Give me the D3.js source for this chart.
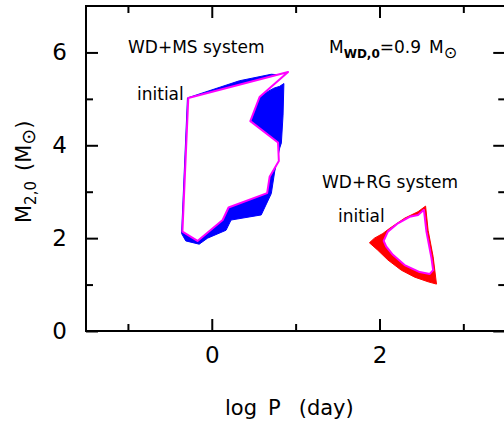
<!DOCTYPE html>
<html>
<head>
<meta charset="utf-8">
<script src="https://cdn.jsdelivr.net/npm/d3@7"></script>
<style>
  html, body { margin: 0; padding: 0; background: #fff; }
  svg { display: block; font-family: "DejaVu Sans", sans-serif; }
</style>
</head>
<body>
<svg id="chart" width="504" height="424"></svg>
<script>
// ---------- data ----------
const xDomain = [-1.5, 3.5];
const yDomain = [0, 7];
const xMajorTicks = [0, 2];
const xMinorTicks = [-1, 1, 3];
const yMajorTicks = [0, 2, 4, 6];
const yMinorTicks = [1, 3, 5];

// WD+MS: final region (blue) and initial region (magenta outline)
const msFinal = [
  [-0.29, 5.02], [0.33, 5.39], [0.71, 5.53], [0.78, 5.52], [0.60, 5.09],
  [0.66, 5.15], [0.74, 5.23], [0.81, 5.27], [0.86, 5.33], [0.85, 4.65],
  [0.83, 4.05], [0.81, 3.94], [0.78, 3.68], [0.75, 3.43], [0.71, 2.96],
  [0.59, 2.50], [0.23, 2.39], [0.17, 2.17], [-0.05, 2.00], [-0.15, 1.87],
  [-0.31, 1.94], [-0.36, 2.10]
];
const msInitial = [
  [-0.28, 5.02], [0.91, 5.58], [0.57, 5.04], [0.46, 4.52], [0.79, 4.06],
  [0.80, 3.66], [0.69, 3.32], [0.66, 2.97], [0.20, 2.66], [0.13, 2.39],
  [-0.17, 1.94], [-0.35, 2.14]
];

// WD+RG: final region (red) and initial region (magenta outline)
const rgFinal = [
  [2.55, 2.69], [2.58, 2.17], [2.64, 1.60], [2.68, 1.01], [2.58, 1.06],
  [2.42, 1.16], [2.26, 1.31], [2.10, 1.53], [1.98, 1.74], [1.88, 1.90],
  [1.94, 2.00], [2.04, 2.10], [2.12, 2.21], [2.30, 2.43], [2.46, 2.57]
];
const rgInitial = [
  [2.46, 2.50], [2.53, 2.61], [2.56, 2.14], [2.62, 1.57], [2.64, 1.31],
  [2.60, 1.23], [2.48, 1.27], [2.30, 1.42], [2.16, 1.64], [2.08, 1.82],
  [2.05, 1.94], [2.10, 2.14], [2.22, 2.32], [2.36, 2.46]
];

// ---------- layout ----------
const svg = d3.select("#chart");
const margin = { left: 86, top: 6 };
const width = 419.25, height = 325;
const g = svg.append("g").attr("transform", `translate(${margin.left},${margin.top})`);

const x = d3.scaleLinear().domain(xDomain).range([0, width]);
const y = d3.scaleLinear().domain(yDomain).range([height, 0]);

const line = d3.line().x(d => x(d[0])).y(d => y(d[1])).curve(d3.curveLinearClosed);

// regions
g.append("path").attr("d", line(msFinal)).attr("fill", "#0000ff").attr("stroke", "#0000ff").attr("stroke-width", 1);
g.append("path").attr("d", line(msInitial)).attr("fill", "#ffffff").attr("stroke", "#ff00ff").attr("stroke-width", 2).attr("stroke-linejoin", "round");
g.append("path").attr("d", line(rgFinal)).attr("fill", "#ff0000").attr("stroke", "#ff0000").attr("stroke-width", 1);
g.append("path").attr("d", line(rgInitial)).attr("fill", "#ffffff").attr("stroke", "#ff00ff").attr("stroke-width", 2).attr("stroke-linejoin", "round");

// axes
function styleAxis(sel) {
  sel.select(".domain").remove();
  sel.selectAll(".tick line").attr("stroke", "#000").attr("stroke-width", 2);
  sel.selectAll(".tick text").attr("font-family", "DejaVu Sans").attr("font-size", 23).attr("fill", "#000");
}
const fmt = d3.format("d");
g.append("g").attr("transform", `translate(0,${height})`)
  .call(d3.axisBottom(x).tickValues(xMajorTicks).tickSize(-12).tickPadding(15.5).tickFormat(fmt)).call(styleAxis);
g.append("g").attr("transform", `translate(0,${height})`)
  .call(d3.axisBottom(x).tickValues(xMinorTicks).tickSize(-7).tickFormat("")).call(styleAxis);
g.append("g")
  .call(d3.axisTop(x).tickValues(xMajorTicks).tickSize(-12).tickFormat("")).call(styleAxis);
g.append("g")
  .call(d3.axisTop(x).tickValues(xMinorTicks).tickSize(-7).tickFormat("")).call(styleAxis);
g.append("g")
  .call(d3.axisLeft(y).tickValues(yMajorTicks).tickSize(-12).tickPadding(19).tickFormat(fmt)).call(styleAxis);
g.append("g")
  .call(d3.axisLeft(y).tickValues(yMinorTicks).tickSize(-7).tickFormat("")).call(styleAxis);
g.append("g").attr("transform", `translate(${width},0)`)
  .call(d3.axisRight(y).tickValues(yMajorTicks).tickSize(-12).tickFormat("")).call(styleAxis);
g.append("g").attr("transform", `translate(${width},0)`)
  .call(d3.axisRight(y).tickValues(yMinorTicks).tickSize(-7).tickFormat("")).call(styleAxis);

// frame
g.append("rect").attr("x", 0).attr("y", 0).attr("width", width).attr("height", height)
  .attr("fill", "none").attr("stroke", "#000").attr("stroke-width", 2);

// axis titles
const xt = svg.append("text").attr("x", 225).attr("y", 415).attr("font-size", 21).attr("fill", "#000");
xt.append("tspan").text("log");
xt.append("tspan").attr("dx", 11).text("P");
xt.append("tspan").attr("dx", 18).text("(day)");

const yt = svg.append("text").attr("transform", "translate(31,223) rotate(-90)").attr("font-size", 21).attr("fill", "#000");
yt.append("tspan").text("M");
yt.append("tspan").attr("font-size", 15).attr("dy", 5).text("2,0");
yt.append("tspan").attr("dy", -5).attr("dx", 10).text("(M");
yt.append("tspan").attr("font-size", 19).attr("dy", 4).text("⊙");
yt.append("tspan").attr("dy", -4).text(")");

// annotations
function ann(txt, px, py) {
  svg.append("text").attr("x", px).attr("y", py).attr("font-size", 17).attr("fill", "#000").text(txt);
}
ann("WD+MS system", 128, 53);
ann("initial", 137, 100);
ann("WD+RG system", 322, 188);
ann("initial", 338, 222);

const mt = svg.append("text").attr("x", 329).attr("y", 53).attr("font-size", 17).attr("fill", "#000");
mt.append("tspan").text("M");
mt.append("tspan").attr("font-size", 12).attr("font-weight", 600).attr("dy", 5).text("WD,0");
mt.append("tspan").attr("dy", -5).text("=0.9");
mt.append("tspan").attr("dx", 8).text("M");
mt.append("tspan").attr("font-size", 16).attr("dy", 5).text("⊙");
</script>
</body>
</html>
